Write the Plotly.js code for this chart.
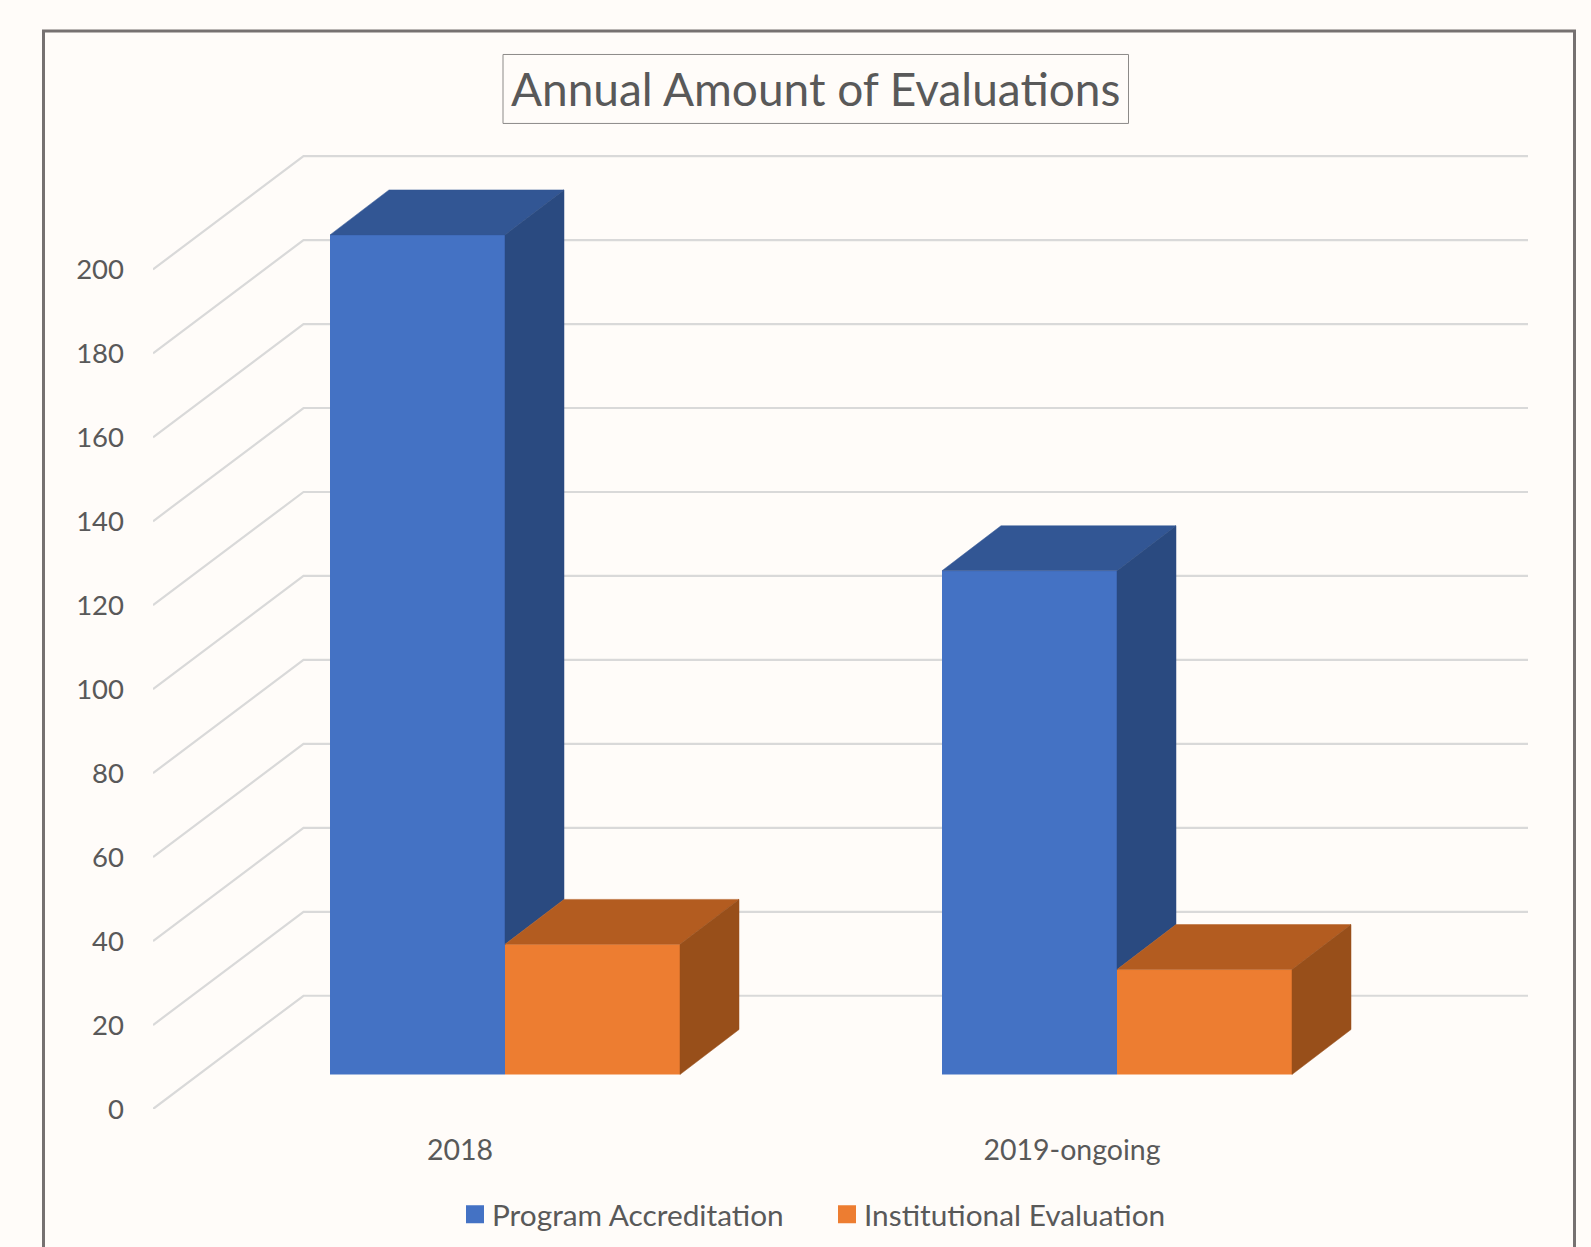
<!DOCTYPE html>
<html>
<head>
<meta charset="utf-8">
<script src="https://cdn.plot.ly/plotly-3.0.1.min.js"></script>
<style>html,body{margin:0;padding:0;background:#FFFCF9;overflow:hidden}#chart{width:1591px;height:1247px}</style>
</head>
<body>
<div id="chart"></div>
<script>
// ---- data ----
const categories = ['2018', '2019-ongoing'];
const programAccreditation = [200, 120];
const institutionalEvaluation = [31, 25];
const yTicks = [0, 20, 40, 60, 80, 100, 120, 140, 160, 180, 200];
const seriesNames = ['Program Accreditation', 'Institutional Evaluation'];
const chartTitle = 'Annual Amount of Evaluations';

// ---- styling / layout constants ----
const W = 1591, H = 1247;
const plotLeft = 153, plotBottom = 1109.5;
const pxPerUnit = 4.2, pxPerCat = 612, cat0Px = 460;
const catPos = categories.map((_, i) => i);
const cx = px => px / pxPerCat, cy = px => px / pxPerUnit;
const wallDx = cx(150.5), wallDy = cy(113.3);      // front axis plane -> back wall
const liftDx = cx(45), liftDy = cy(34.5);          // front axis plane -> bar front plane
const barDx = cx(59), barDy = cy(45);              // bar depth
const barW = cx(175);
const gridEnd = cx(1528 - cat0Px), gridStart = cx(plotLeft - cat0Px);
const textCol = '#595959', gridCol = '#D9D9D9', bg = '#FFFCF9';
const blue = {front: '#4472C4', top: '#325694', side: '#2A4A80'};
const orange = {front: '#ED7D31', top: '#B35C20', side: '#984F1A'};
const FONT = 'Lato, "Noto Sans", sans-serif';

const barTrace = (vals, name, col, off) => ({
  type: 'bar', x: catPos.map(c => c + liftDx), y: vals, base: vals.map(() => liftDy),
  width: vals.map(() => barW), offset: vals.map(() => off), name: name,
  marker: {color: col.front, line: {width: 0}}, showlegend: false, hoverinfo: 'name+y'
});
const poly = (xs, ys, col) => ({
  type: 'scatter', mode: 'lines', x: xs, y: ys, fill: 'toself', fillcolor: col,
  line: {color: col, width: 0.5}, showlegend: false, hoverinfo: 'skip'
});
const traces = [
  barTrace(programAccreditation, seriesNames[0], blue, -barW),
  barTrace(institutionalEvaluation, seriesNames[1], orange, 0)
];
// blue faces (side face is only seen above the orange bar)
catPos.forEach((c, i) => {
  const l = c + liftDx - barW, r = c + liftDx, t = programAccreditation[i] + liftDy, b = institutionalEvaluation[i] + liftDy;
  traces.push(poly([l, r, r + barDx, l + barDx, l], [t, t, t + barDy, t + barDy, t], blue.top));
  traces.push(poly([r, r + barDx, r + barDx, r, r], [t, t + barDy, b + barDy, b, t], blue.side));
});
// orange faces
catPos.forEach((c, i) => {
  const l = c + liftDx, r = c + liftDx + barW, t = institutionalEvaluation[i] + liftDy, b = liftDy;
  traces.push(poly([l, r, r + barDx, l + barDx, l], [t, t, t + barDy, t + barDy, t], orange.top));
  traces.push(poly([r, r + barDx, r + barDx, r, r], [t, t + barDy, b + barDy, b, t], orange.side));
});
// legend keys
[blue, orange].forEach((c, i) => traces.push({
  type: 'scatter', mode: 'markers', x: [null], y: [null], name: seriesNames[i], hoverinfo: 'skip',
  marker: {symbol: 'square', size: 16, color: c.front, line: {color: c.front, width: 2}}
}));

const gridShapes = yTicks.map(v => ({
  type: 'path', xref: 'x', yref: 'y', layer: 'below',
  path: `M${gridStart},${v} L${gridStart + wallDx},${v + wallDy} L${gridEnd},${v + wallDy}`,
  line: {color: gridCol, width: 2.2}
}));
const plotH = plotBottom, plotW = W - plotLeft;
const ppx = p => (p - plotLeft) / plotW, ppy = p => (plotBottom - p) / plotH;
const frame = {
  type: 'path', xref: 'paper', yref: 'paper', layer: 'below',
  path: `M${ppx(43.5)},${ppy(1260)} L${ppx(43.5)},${ppy(31)} L${ppx(1574.5)},${ppy(31)} L${ppx(1574.5)},${ppy(1260)}`,
  line: {color: '#767171', width: 3}
};
const titleBox = {
  type: 'rect', xref: 'paper', yref: 'paper', layer: 'below',
  x0: ppx(503), x1: ppx(1128.5), y0: ppy(123.5), y1: ppy(54.5),
  line: {color: '#8C8A88', width: 1}, fillcolor: bg
};

const layout = {
  width: W, height: H, paper_bgcolor: bg, plot_bgcolor: 'rgba(0,0,0,0)',
  margin: {l: plotLeft, r: 0, t: 0, b: H - plotBottom, pad: 0, autoexpand: false},
  font: {family: FONT, color: textCol},
  title: {text: chartTitle, font: {family: FONT, size: 46, color: textCol}, x: 815.7 / W, xref: 'container', xanchor: 'center', y: 1 - 90 / H, yref: 'container', yanchor: 'middle'},
  xaxis: {
    range: [cx(plotLeft - cat0Px), cx(W - cat0Px)], tickmode: 'array', tickvals: catPos, ticktext: categories,
    showgrid: false, zeroline: false, showline: false, ticks: '', ticklabelstandoff: 21,
    tickfont: {family: FONT, size: 28.5, color: textCol}, fixedrange: true
  },
  yaxis: {
    range: [0, plotBottom / pxPerUnit], tickmode: 'array', tickvals: yTicks, ticktext: yTicks.map(String),
    showgrid: false, zeroline: false, showline: false, ticks: '', ticklabelstandoff: 28,
    tickfont: {family: FONT, size: 27.5, color: textCol}, fixedrange: true
  },
  showlegend: true,
  legend: {
    orientation: 'h', x: ppx(452), xanchor: 'left', y: ppy(1215), yanchor: 'middle',
    font: {family: FONT, size: 29.8, color: textCol}, bgcolor: 'rgba(0,0,0,0)',
    entrywidth: 327, entrywidthmode: 'pixels', itemclick: false, itemdoubleclick: false
  },
  shapes: [frame, titleBox].concat(gridShapes)
};
Plotly.newPlot('chart', traces, layout, {displayModeBar: false, responsive: false}).then(() => {
  // the reference keeps its legend keys a little closer to their labels
  document.querySelectorAll('.legendsymbols').forEach(g => g.setAttribute('transform', 'translate(3,0)'));
});
</script>
</body>
</html>
